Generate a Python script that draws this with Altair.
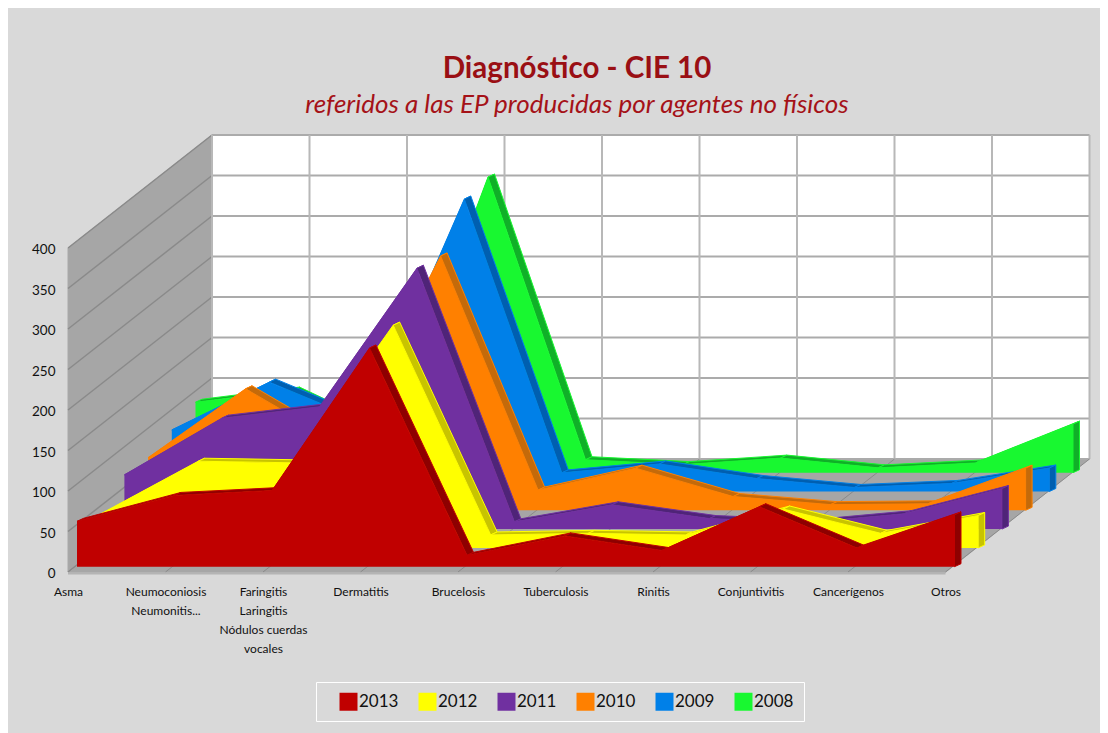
import altair as alt
import pandas as pd

categories = ["Asma", "Neumoconiosis\nNeumonitis...", "Faringitis\nLaringitis\nNódulos cuerdas\nvocales",
              "Dermatitis", "Brucelosis", "Tuberculosis", "Rinitis", "Conjuntivitis", "Cancerígenos", "Otros"]
years = ["2013", "2012", "2011", "2010", "2009", "2008"]
v2013 = [56, 88, 94, 270, 14, 38, 20, 74, 23, 64]
v2012 = [42, 107, 105, 275, 16, 18, 16, 48, 18, 40]
v2011 = [67, 137, 151, 322, 9, 30, 13, 8, 19, 50]
v2010 = [65, 150, 80, 314, 25, 52, 17, 7, 8, 52]
v2009 = [76, 135, 85, 361, 23, 34, 16, 5, 10, 29]
v2008 = [87, 102, 45, 365, 16, 10, 18, 6, 12, 60]
series = [v2013, v2012, v2011, v2010, v2009, v2008]
face_colors = ["#C00000", "#FFFF00", "#7030A0", "#FF8000", "#0080E8", "#18F830"]
dark_colors = ["#8E0000", "#C8C400", "#4F2478", "#C46A0A", "#005FB0", "#10B028"]
y_ticks = [0, 50, 100, 150, 200, 250, 300, 350, 400]

W, H = 1092, 725
PX, PY = 97.5, 0.81
X_DOM = [(8 - 68) / PX, (8 + W - 68) / PX]
Y_DOM = [(572 - (8 + H)) / PY, (572 - 8) / PY]
NCAT = len(categories) - 1
DEPTH_X, DEPTH_Y = 144 / PX, 113 / PY
STEP_X, STEP_Y = 23.7 / PX, 18.8 / PY
START_X, START_Y = 9 / PX, 5.3 / PY
RIB_X, RIB_Y = 6.5 / PX, 3.0 / PY

x_s = alt.Scale(domain=X_DOM, nice=False, zero=False)
y_s = alt.Scale(domain=Y_DOM, nice=False, zero=False)
labels_js = "[" + ",".join("'" + c.replace("\n", "|") + "'" for c in categories) + "]"

xax = alt.Axis(values=list(range(len(categories))), title=None, domain=False, ticks=False, grid=False,
               labelExpr=f"split({labels_js}[datum.value], '|')", labelFont="Lato", labelFontSize=12,
               labelColor="#111111", labelPadding=0, offset=-(8 + H - 586), labelOverlap=False,
               labelLimit=300, labelFlush=False, labelBound=False, labelBaseline="top",
               labelLineHeight=19)
yax = alt.Axis(values=y_ticks, title=None, domain=False, ticks=False, grid=False, labelFont="Lato",
               labelFontSize=13.5, labelColor="#111111", labelPadding=0, labelOffset=1.5, offset=-47)


def polys(rows):
    recs = []
    for pid, pts in enumerate(rows):
        for o, (x, y) in enumerate(pts):
            recs.append({"pid": pid, "o": o, "x": x, "y": y})
    return pd.DataFrame(recs)


def enc(extra=None):
    d = dict(x=alt.X("x:Q", scale=x_s, axis=xax), y=alt.Y("y:Q", scale=y_s, axis=yax),
             detail="pid:N", order=alt.Order("o:Q"))
    if extra:
        d.update(extra)
    return d


def fill_layer(rows, fill, stroke=None, sw=0):
    kw = dict(filled=False, fill=fill, interpolate="linear-closed", strokeJoin="miter", clip=False)
    kw.update(stroke=stroke or fill, strokeWidth=sw if stroke else 0)
    return alt.Chart(polys(rows)).mark_line(**kw).encode(**enc())


def line_layer(rows, color, sw):
    return alt.Chart(polys(rows)).mark_line(color=color, strokeWidth=sw).encode(**enc())


layers = []
# side wall, back wall, floor
layers.append(fill_layer([[(0, 0), (DEPTH_X, DEPTH_Y), (DEPTH_X, 400 + DEPTH_Y), (0, 400)]],
                         "#A6A6A6", "#A8A8A8", 1))
layers.append(fill_layer([[(DEPTH_X, DEPTH_Y), (DEPTH_X + NCAT, DEPTH_Y), (DEPTH_X + NCAT, 400 + DEPTH_Y),
                           (DEPTH_X, 400 + DEPTH_Y)]], "#FFFFFF"))
layers.append(fill_layer([[(0, -1), (NCAT, -1), (NCAT + DEPTH_X, DEPTH_Y), (DEPTH_X, DEPTH_Y)]],
                         "#A6A6A6"))
layers.append(line_layer([[(0, v), (DEPTH_X, v + DEPTH_Y)] for v in y_ticks], "#8A8A8A", 1.5))
layers.append(line_layer([[(DEPTH_X, v + DEPTH_Y), (DEPTH_X + NCAT, v + DEPTH_Y)] for v in y_ticks], "#ABABAB", 2))
layers.append(line_layer([[(DEPTH_X + i, DEPTH_Y), (DEPTH_X + i, 400 + DEPTH_Y)] for i in range(NCAT + 1)],
                         "#B8B8B8", 2))
layers.append(line_layer([[(i, 0), (DEPTH_X + i, DEPTH_Y)] for i in range(NCAT + 1)], "#8A8A8A", 1))
layers.append(line_layer([[(0, -2), (NCAT, -2)]], "#B4B4B4", 2))

legend = alt.Legend(orient="none", legendX=308, legendY=674, direction="horizontal", columns=6, title=None,
                    symbolType="square", symbolSize=324, symbolStrokeWidth=1, symbolOffset=13, labelFont="Lato",
                    labelFontSize=17, labelColor="#111111", labelOffset=1, columnPadding=6, padding=10,
                    strokeColor="#FFFFFF", symbolOpacity=1)

for k in range(len(series) - 1, -1, -1):
    vals = series[k]
    ox, oy = START_X + k * STEP_X, START_Y + k * STEP_Y
    top = [(i + ox, v + oy) for i, v in enumerate(vals)]
    strips = [[top[i], top[i + 1], (top[i + 1][0] + RIB_X, top[i + 1][1] + RIB_Y),
               (top[i][0] + RIB_X, top[i][1] + RIB_Y)] for i in range(NCAT)]
    strips.append([(NCAT + ox, oy), (NCAT + ox + RIB_X, oy + RIB_Y),
                   (NCAT + ox + RIB_X, vals[-1] + oy + RIB_Y), (NCAT + ox, vals[-1] + oy)])
    layers.append(fill_layer(strips, dark_colors[k], face_colors[k], 1))
    face = polys([[(0 + ox, oy)] + top + [(NCAT + ox, oy)]])
    face["year"] = years[k]
    layers.append(alt.Chart(face).mark_line(filled=True, interpolate="linear-closed", strokeWidth=0).encode(
        **enc({"color": alt.Color("year:N", scale=alt.Scale(domain=years, range=face_colors), legend=legend)})))

title = alt.TitleParams(
    "Diagnóstico - CIE 10", subtitle="referidos a las EP producidas por  agentes  no  físicos",
    font="Lato", fontSize=29.5, fontWeight="bold", color="#9A0F14", subtitleFont="Lato", subtitleFontSize=26,
    subtitleFontStyle="italic", subtitleColor="#A51218", subtitlePadding=8, anchor="middle", dx=23, dy=115,
)

chart = alt.layer(*layers).properties(
    width=W, height=H, background="#D9D9D9", padding=0, title=title,
    autosize=alt.AutoSizeParams(type="none"),
).configure_view(stroke=None, fill="#D9D9D9")

chart.save("out.html", embed_options={"renderer": "svg", "actions": False})
